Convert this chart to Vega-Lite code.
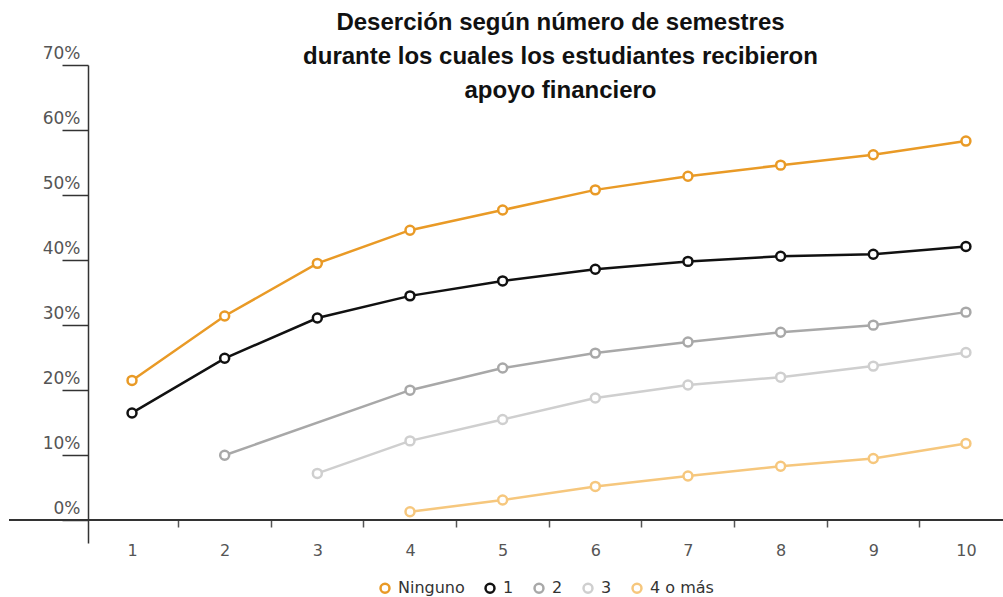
{
  "$schema": "https://vega.github.io/schema/vega-lite/v6.json",
  "autosize": {"type": "none"},
  "width": 915,
  "height": 478,
  "padding": {"left": 88, "top": 65, "right": 0, "bottom": 54},
  "background": "white",
  "title": {
    "text": ["Deserción según número de semestres", "durante los cuales los estudiantes recibieron", "apoyo financiero"],
    "font": "Liberation Sans",
    "fontSize": 24,
    "fontWeight": "bold",
    "color": "#111111",
    "lineHeight": 34,
    "frame": "group",
    "anchor": "middle",
    "baseline": "bottom",
    "dx": 15,
    "offset": -83
  },
  "config": {"view": {"stroke": null}},
  "data": {
    "values": [
      {"sem": 1, "serie": "Ninguno", "val": 0.215},
      {"sem": 2, "serie": "Ninguno", "val": 0.314},
      {"sem": 3, "serie": "Ninguno", "val": 0.395},
      {"sem": 4, "serie": "Ninguno", "val": 0.446},
      {"sem": 5, "serie": "Ninguno", "val": 0.477},
      {"sem": 6, "serie": "Ninguno", "val": 0.508},
      {"sem": 7, "serie": "Ninguno", "val": 0.529},
      {"sem": 8, "serie": "Ninguno", "val": 0.546},
      {"sem": 9, "serie": "Ninguno", "val": 0.562},
      {"sem": 10, "serie": "Ninguno", "val": 0.583},
      {"sem": 1, "serie": "1", "val": 0.165},
      {"sem": 2, "serie": "1", "val": 0.249},
      {"sem": 3, "serie": "1", "val": 0.311},
      {"sem": 4, "serie": "1", "val": 0.345},
      {"sem": 5, "serie": "1", "val": 0.368},
      {"sem": 6, "serie": "1", "val": 0.386},
      {"sem": 7, "serie": "1", "val": 0.398},
      {"sem": 8, "serie": "1", "val": 0.406},
      {"sem": 9, "serie": "1", "val": 0.409},
      {"sem": 10, "serie": "1", "val": 0.421},
      {"sem": 2, "serie": "2", "val": 0.100},
      {"sem": 4, "serie": "2", "val": 0.200},
      {"sem": 5, "serie": "2", "val": 0.234},
      {"sem": 6, "serie": "2", "val": 0.257},
      {"sem": 7, "serie": "2", "val": 0.274},
      {"sem": 8, "serie": "2", "val": 0.289},
      {"sem": 9, "serie": "2", "val": 0.300},
      {"sem": 10, "serie": "2", "val": 0.320},
      {"sem": 3, "serie": "3", "val": 0.072},
      {"sem": 4, "serie": "3", "val": 0.122},
      {"sem": 5, "serie": "3", "val": 0.155},
      {"sem": 6, "serie": "3", "val": 0.188},
      {"sem": 7, "serie": "3", "val": 0.208},
      {"sem": 8, "serie": "3", "val": 0.220},
      {"sem": 9, "serie": "3", "val": 0.237},
      {"sem": 10, "serie": "3", "val": 0.258},
      {"sem": 4, "serie": "4 o más", "val": 0.013},
      {"sem": 5, "serie": "4 o más", "val": 0.031},
      {"sem": 6, "serie": "4 o más", "val": 0.052},
      {"sem": 7, "serie": "4 o más", "val": 0.068},
      {"sem": 8, "serie": "4 o más", "val": 0.083},
      {"sem": 9, "serie": "4 o más", "val": 0.095},
      {"sem": 10, "serie": "4 o más", "val": 0.118}
    ]
  },
  "layer": [
    {
      "mark": {"type": "rule", "color": "#333333", "strokeWidth": 1.5},
      "encoding": {
        "x": {"datum": -0.32, "type": "quantitative"},
        "x2": {"datum": 10.4},
        "y": {"datum": 0, "type": "quantitative"}
      }
    },
    {
      "mark": {"type": "line", "strokeWidth": 2.5},
      "encoding": {
        "x": {
          "field": "sem",
          "type": "quantitative",
          "scale": {"domain": [0.525, 10.4], "nice": false, "zero": false},
          "axis": {
            "values": [1, 2, 3, 4, 5, 6, 7, 8, 9, 10],
            "format": "d",
            "offset": -23,
            "domain": false,
            "grid": false,
            "title": null,
            "tickOffset": 46,
            "labelOffset": -46,
            "tickSize": 7,
            "tickWidth": 1.5,
            "tickColor": "#555555",
            "labelFont": "DejaVu Sans",
            "labelFontSize": 16,
            "labelColor": "#555555",
            "labelPadding": 15,
            "labelFlush": false,
            "labelOverlap": false
          }
        },
        "y": {
          "field": "val",
          "type": "quantitative",
          "scale": {"domain": [-0.035, 0.7], "nice": false, "zero": false},
          "axis": {
            "values": [0, 0.1, 0.2, 0.3, 0.4, 0.5, 0.6, 0.7],
            "format": ".0%",
            "grid": false,
            "title": null,
            "tickSize": 26,
            "tickWidth": 1.5,
            "tickColor": "#333333",
            "domainColor": "#333333",
            "domainWidth": 1.5,
            "labelPadding": -18,
            "labelBaseline": "alphabetic",
            "labelOffset": -7,
            "labelFont": "DejaVu Sans",
            "labelFontSize": 17,
            "labelColor": "#555555",
            "labelOverlap": false
          }
        },
        "color": {
          "field": "serie",
          "type": "nominal",
          "scale": {
            "domain": ["Ninguno", "1", "2", "3", "4 o más"],
            "range": ["#E99A26", "#111111", "#A8A8A8", "#CFCFCF", "#F6C77D"]
          },
          "legend": {
            "orient": "none",
            "legendX": 289,
            "legendY": 515,
            "direction": "horizontal",
            "title": null,
            "symbolType": "circle",
            "symbolSize": 80,
            "symbolStrokeWidth": 2.5,
            "symbolFillColor": "white",
            "labelFont": "DejaVu Sans",
            "labelFontSize": 16,
            "labelColor": "#333333",
            "labelOffset": 5,
            "columnPadding": 15
          }
        }
      }
    },
    {
      "mark": {"type": "point", "shape": "circle", "filled": false, "fill": "white", "strokeWidth": 2.5, "size": 80, "opacity": 1},
      "encoding": {
        "x": {"field": "sem", "type": "quantitative"},
        "y": {"field": "val", "type": "quantitative"},
        "color": {"field": "serie", "type": "nominal"}
      }
    }
  ]
}
